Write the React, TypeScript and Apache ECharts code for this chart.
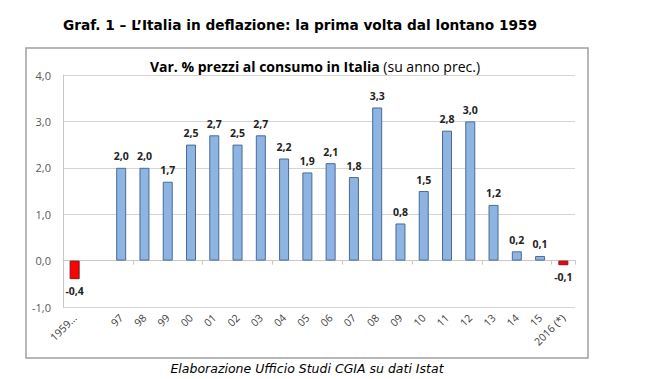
import React, { useEffect, useRef } from "react";
import * as echarts from "echarts";

const categories = ["1959...", "", "97", "98", "99", "00", "01", "02", "03", "04", "05", "06", "07", "08", "09", "10", "11", "12", "13", "14", "15", "2016 (*)"];
const values: (number | null)[] = [-0.4, null, 2.0, 2.0, 1.7, 2.5, 2.7, 2.5, 2.7, 2.2, 1.9, 2.1, 1.8, 3.3, 0.8, 1.5, 2.8, 3.0, 1.2, 0.2, 0.1, -0.1];
const yTicks = { min: -1, max: 4, interval: 1 };

const mainTitle = "Graf. 1 \u2013 L\u2019Italia in deflazione: la prima volta dal lontano 1959";
const chartTitleBold = "Var. % prezzi al consumo in Italia";
const chartTitleNormal = " (su anno prec.)";
const source = "Elaborazione Ufficio Studi CGIA su dati Istat";

const fmt = (v: number) => v.toFixed(1).replace(".", ",");

export default function App() {
  const ref = useRef<HTMLDivElement>(null);
  useEffect(() => {
    if (!ref.current) return;
    const chart = echarts.init(ref.current, null, { renderer: "svg" });
    const inner = "'Open Sans', 'Noto Sans', sans-serif";
    chart.setOption({
      animation: false,
      backgroundColor: "#ffffff",
      textStyle: { fontFamily: inner },
      graphic: [
        {
          type: "rect",
          shape: { x: 26, y: 48, width: 562, height: 310 },
          style: { fill: "none", stroke: "#a0a0a0", lineWidth: 1.5 },
          z: 0,
        },
        {
          type: "text",
          x: 300,
          y: 25,
          style: {
            text: mainTitle,
            fontFamily: "'DejaVu Sans', Verdana, sans-serif",
            fontWeight: "bold",
            fontSize: 13.7,
            fill: "#000",
            align: "center",
            verticalAlign: "middle",
          },
        },
        {
          type: "text",
          x: 315,
          y: 66,
          style: {
            text: `{b|${chartTitleBold}}{n|${chartTitleNormal}}`,
            align: "center",
            verticalAlign: "middle",
            rich: {
              b: { fontFamily: inner, fontWeight: "bold", fontSize: 14, fill: "#000" },
              n: { fontFamily: inner, fontSize: 14, fill: "#000" },
            },
          },
        },
        {
          type: "text",
          x: 307,
          y: 368,
          style: {
            text: source,
            fontFamily: "'DejaVu Sans', Verdana, sans-serif",
            fontStyle: "italic",
            fontSize: 12.5,
            fill: "#000",
            align: "center",
            verticalAlign: "middle",
          },
        },
      ],
      grid: { left: 63, top: 75, right: 70, bottom: 72, containLabel: false },
      xAxis: [
        {
          type: "category",
          data: categories,
          position: "bottom",
          axisLine: { show: false, onZero: false },
          axisTick: { show: false },
          axisLabel: {
            rotate: 45,
            interval: 0,
            color: "#404040",
            fontSize: 10.5,
            margin: 9,
            fontFamily: inner,
          },
        },
        {
          type: "category",
          data: categories,
          position: "bottom",
          axisLine: { show: true, onZero: true, onZeroAxisIndex: 0, lineStyle: { color: "#c8c8c8", width: 1 } },
          axisTick: { show: true, length: 4, lineStyle: { color: "#c8c8c8" } },
          axisLabel: { show: false },
        },
      ],
      yAxis: {
        type: "value",
        min: yTicks.min,
        max: yTicks.max,
        interval: yTicks.interval,
        axisLine: { show: true, lineStyle: { color: "#c8c8c8" } },
        axisTick: { show: false },
        splitLine: { show: true, lineStyle: { color: "#d4d4d4" } },
        axisLabel: {
          formatter: (v: number) => fmt(v),
          color: "#595959",
          fontSize: 11,
          margin: 12,
        },
      },
      series: [
        {
          type: "bar",
          xAxisIndex: 0,
          data: values.map((v) =>
            v === null
              ? null
              : {
                  value: v,
                  itemStyle: {
                    color: v < 0 ? "#ff0000" : "#8db4e2",
                    borderColor: v < 0 ? "#7a1a1a" : "#4a6b94",
                    borderWidth: 1,
                  },
                  label: { position: v < 0 ? "bottom" : "top" },
                }
          ),
          barWidth: 10,
          label: {
            show: true,
            formatter: (p: any) => fmt(p.value),
            fontWeight: "bold",
            fontSize: 10.5,
            color: "#222",
            distance: 6,
          },
        },
      ],
    });
    return () => chart.dispose();
  }, []);
  return (
    <div
      ref={ref}
      style={{ position: "fixed", left: 0, top: 0, width: 645, height: 379 }}
    />
  );
}
